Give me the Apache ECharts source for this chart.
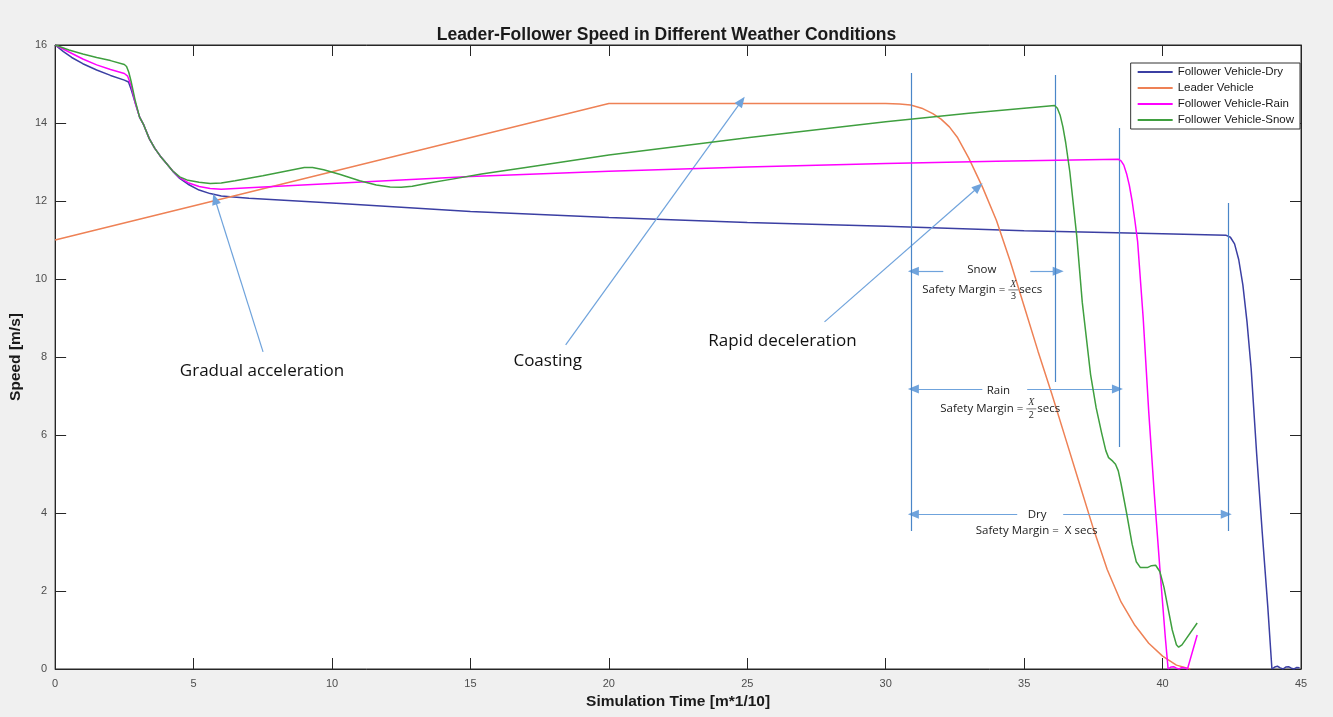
<!DOCTYPE html>
<html>
<head>
<meta charset="utf-8">
<script src="https://cdn.jsdelivr.net/npm/echarts@6/dist/echarts.min.js"></script>
<style>html,body{margin:0;padding:0;background:#fff;}#c{width:1333px;height:717px;}</style>
</head>
<body>
<div id="c"></div>
<script>
// ---- data (time [m*1/10], speed [m/s]) ----
const xTicks = [0, 5, 10, 15, 20, 25, 30, 35, 40, 45];
const yTicks = [0, 2, 4, 6, 8, 10, 12, 14, 16];

const dryData = [[0,16],[0.3,15.83],[0.6,15.68],[1,15.52],[1.5,15.36],[2,15.22],[2.5,15.1],[2.65,15.05],[2.75,14.85],[2.9,14.5],[3.05,14.15],[3.2,13.95],[3.4,13.6],[3.6,13.35],[3.8,13.15],[4,12.98],[4.25,12.76],[4.5,12.58],[4.8,12.43],[5.2,12.28],[5.6,12.19],[6,12.13],[7,12.07],[10,11.95],[15,11.73],[20,11.58],[25,11.45],[30,11.35],[35,11.24],[40,11.16],[42.3,11.12],[42.45,11.07],[42.6,10.9],[42.75,10.5],[42.9,9.85],[43.05,8.9],[43.2,7.7],[43.4,5.5],[43.6,3.5],[43.8,1.6],[43.95,0],[44.05,0.05],[44.15,0.07],[44.25,0.03],[44.35,0],[44.45,0.05],[44.55,0.06],[44.65,0.02],[44.75,0],[44.85,0.04],[44.95,0.03]];

const leaderData = [[0,11],[20,14.5],[30,14.5],[30.5,14.49],[30.9,14.46],[31.3,14.38],[31.7,14.24],[32,14.1],[32.3,13.9],[32.6,13.62],[33,13.1],[33.5,12.35],[34,11.5],[34.5,10.45],[35,9.3],[35.5,8.15],[36,7.05],[36.5,5.9],[37,4.75],[37.5,3.6],[38,2.55],[38.5,1.72],[39,1.12],[39.5,0.66],[40,0.33],[40.5,0.1],[41,0]];

const rainData = [[0,16],[0.5,15.82],[1,15.64],[1.5,15.49],[2,15.37],[2.5,15.27],[2.62,15.2],[2.75,14.95],[2.9,14.5],[3.05,14.15],[3.2,13.95],[3.4,13.6],[3.6,13.35],[3.8,13.15],[4,12.98],[4.25,12.77],[4.5,12.6],[4.8,12.47],[5.2,12.37],[5.6,12.32],[6,12.3],[7,12.34],[10,12.45],[15,12.63],[20,12.76],[25,12.87],[30,12.96],[34,13.02],[38.4,13.07],[38.5,13.03],[38.6,12.92],[38.7,12.7],[38.8,12.4],[38.9,12.0],[39,11.5],[39.1,10.95],[39.3,9.0],[39.5,6.6],[39.7,4.5],[39.9,2.6],[40.1,0.8],[40.2,0],[40.3,0.05],[40.4,0.06],[40.5,0.02],[40.6,0],[40.7,0.04],[40.8,0.03],[40.9,0],[41.25,0.87]];

const snowData = [[0,16],[0.5,15.87],[1,15.77],[1.5,15.68],[2,15.6],[2.5,15.5],[2.58,15.45],[2.66,15.3],[2.75,15.05],[2.9,14.55],[3.05,14.15],[3.2,13.95],[3.4,13.6],[3.6,13.35],[3.8,13.15],[4,12.98],[4.25,12.77],[4.5,12.62],[4.8,12.53],[5.2,12.48],[5.6,12.45],[6,12.46],[6.5,12.52],[7.5,12.65],[8.5,12.79],[9,12.86],[9.3,12.86],[9.7,12.8],[10.3,12.68],[11,12.52],[11.6,12.41],[12.1,12.36],[12.5,12.35],[12.9,12.38],[13.5,12.46],[14.5,12.58],[15.4,12.69],[17,12.86],[20,13.18],[25,13.62],[30,14.03],[33,14.25],[36.1,14.45],[36.2,14.38],[36.3,14.2],[36.4,13.9],[36.5,13.5],[36.65,12.75],[36.9,11.1],[37.1,9.4],[37.4,7.55],[37.6,6.7],[37.8,6.05],[37.95,5.6],[38.05,5.42],[38.2,5.33],[38.3,5.25],[38.4,5.08],[38.5,4.75],[38.7,4.0],[38.9,3.2],[39.05,2.75],[39.2,2.6],[39.45,2.6],[39.6,2.65],[39.75,2.66],[39.9,2.5],[40.05,2.1],[40.2,1.55],[40.35,1.0],[40.5,0.62],[40.58,0.56],[40.7,0.62],[41.25,1.18]];

const seriesNames = ['Follower Vehicle-Dry', 'Leader Vehicle', 'Follower Vehicle-Rain', 'Follower Vehicle-Snow'];
const seriesColors = ['#3b3fa3', '#ee8155', '#ff00ff', '#3f9f3f'];

// annotation arrows [from, to] in data coords
const annotArrows = [
  [[7.51, 8.13], [5.77, 12.05]],
  [[18.44, 8.31], [24.79, 14.56]],
  [[27.79, 8.9], [33.35, 12.36]],
  [[32.08, 10.2], [31.0, 10.2]],
  [[35.22, 10.2], [36.23, 10.2]],
  [[33.49, 7.18], [31.0, 7.18]],
  [[35.11, 7.18], [38.37, 7.18]],
  [[34.75, 3.97], [31.0, 3.97]],
  [[36.41, 3.97], [42.3, 3.97]]
];
const annotVLines = [
  [30.93, 3.54, 15.28],
  [36.12, 7.36, 15.23],
  [38.43, 5.69, 13.87],
  [42.37, 3.54, 11.95]
];
const annotTexts = [
  ['Gradual acceleration', 7.47, 7.64],
  ['Coasting', 17.79, 7.9],
  ['Rapid deceleration', 26.27, 8.41]
];

const chart = echarts.init(document.getElementById('c'));
const FONT = '"Liberation Sans", Arial, sans-serif';
const ANN = '"Open Sans", "Liberation Sans", sans-serif';

const lineSeries = [dryData, leaderData, rainData, snowData].map((d, i) => ({
  name: seriesNames[i],
  type: 'line',
  data: d,
  symbol: 'none',
  smooth: false,
  lineStyle: { width: 1.5, color: seriesColors[i] },
  itemStyle: { color: seriesColors[i] },
  z: 3 + i
}));

const markLineData = [];
annotArrows.forEach(a => {
  markLineData.push([{ coord: a[0], symbol: 'none' }, { coord: a[1], symbol: 'triangle' }]);
});
annotVLines.forEach(v => {
  markLineData.push([{ coord: [v[0], v[1]], symbol: 'none', lineStyle: { color: '#4a86c8', width: 1.2 } }, { coord: [v[0], v[2]], symbol: 'none' }]);
});

const annotSeries = {
  name: 'annot',
  type: 'line',
  xAxisIndex: 1, yAxisIndex: 1,
  data: [],
  silent: true,
  markLine: {
    silent: true,
    animation: false,
    symbolSize: [9, 11],
    label: { show: false },
    lineStyle: { color: '#6fa3dc', width: 1.2, type: 'solid' },
    data: markLineData
  }
};

const tickStyle = { show: true, inside: true, length: 11, lineStyle: { color: '#262626' } };
const lineStyleAx = { show: true, onZero: false, lineStyle: { color: '#262626' } };

chart.setOption({
  animation: false,
  backgroundColor: '#f0f0f0',
  title: {
    text: 'Leader-Follower Speed in Different Weather Conditions',
    left: 'center', top: 21,
    textStyle: { fontFamily: FONT, fontSize: 17.5, fontWeight: 'bold', color: '#1a1a1a' }
  },
  legend: {
    data: seriesNames,
    orient: 'vertical',
    right: 33, top: 63,
    itemWidth: 35, itemHeight: 12, itemGap: 4,
    padding: [3, 6, 3, 6],
    backgroundColor: '#fff',
    borderColor: '#333', borderWidth: 1,
    itemStyle: { opacity: 0 },
    textStyle: { fontFamily: FONT, fontSize: 11.5, lineHeight: 12, color: '#1a1a1a' }
  },
  grid: { left: 54, right: 32, top: 45, bottom: 48, show: true, backgroundColor: '#fff', borderColor: '#262626', borderWidth: 1 },
  xAxis: [{
    type: 'value', min: 0, max: 45, interval: 5,
    name: 'Simulation Time [m*1/10]', nameLocation: 'middle', nameGap: 24,
    nameTextStyle: { fontFamily: FONT, fontSize: 15.5, fontWeight: 'bold', color: '#1a1a1a' },
    axisLine: lineStyleAx, axisTick: tickStyle,
    axisLabel: { fontFamily: FONT, fontSize: 11, color: '#4d4d4d', margin: 9, formatter: v => xTicks.includes(v) ? String(v) : '' },
    splitLine: { show: false }
  }, {
    type: 'value', min: 0, max: 45, interval: 5, position: 'top',
    axisLine: lineStyleAx, axisTick: tickStyle,
    axisLabel: { show: false }, splitLine: { show: false }
  }],
  yAxis: [{
    type: 'value', min: 0, max: 16, interval: 2,
    name: 'Speed [m/s]', nameLocation: 'middle', nameGap: 21,
    nameTextStyle: { fontFamily: FONT, fontSize: 15.5, fontWeight: 'bold', color: '#1a1a1a' },
    axisLine: lineStyleAx, axisTick: tickStyle,
    axisLabel: { fontFamily: FONT, fontSize: 11, color: '#4d4d4d', margin: 8, formatter: v => yTicks.includes(v) ? String(v) : '' },
    splitLine: { show: false }
  }, {
    type: 'value', min: 0, max: 16, interval: 2, position: 'right',
    axisLine: lineStyleAx, axisTick: tickStyle,
    axisLabel: { show: false }, splitLine: { show: false }
  }],
  series: lineSeries.concat([annotSeries])
});

// ---- text annotations placed from data coordinates ----
const px = (t, v) => chart.convertToPixel({ xAxisIndex: 0, yAxisIndex: 0 }, [t, v]);
const graphics = [];
annotTexts.forEach(a => {
  const p = px(a[1], a[2]);
  graphics.push({ type: 'text', x: p[0], y: p[1], z: 10,
    style: { text: a[0], fontFamily: ANN, fontSize: 17, fill: '#111', align: 'center', verticalAlign: 'middle' } });
});
const small = (txt, t, v, align) => {
  const p = px(t, v);
  graphics.push({ type: 'text', x: p[0], y: p[1], z: 10,
    style: { text: txt, fontFamily: ANN, fontSize: 11.5, fill: '#222', align: align || 'center', verticalAlign: 'middle' } });
};
const fraction = (den, t, v) => {
  const p = px(t, v);
  graphics.push({ type: 'text', x: p[0], y: p[1] - 1, z: 10,
    style: { text: 'X', fontFamily: '"Liberation Serif", serif', fontStyle: 'italic', fontSize: 10, fill: '#333', align: 'center', verticalAlign: 'bottom' } });
  graphics.push({ type: 'line', z: 10, shape: { x1: p[0] - 5, y1: p[1], x2: p[0] + 5, y2: p[1] }, style: { stroke: '#555', lineWidth: 0.8 } });
  graphics.push({ type: 'text', x: p[0], y: p[1] + 1, z: 10,
    style: { text: den, fontFamily: ANN, fontSize: 9.5, fill: '#333', align: 'center', verticalAlign: 'top' } });
  graphics.push({ type: 'text', x: p[0] - 8, y: p[1], z: 10,
    style: { text: 'Safety Margin =', fontFamily: ANN, fontSize: 11.5, fill: '#222', align: 'right', verticalAlign: 'middle' } });
  graphics.push({ type: 'text', x: p[0] + 6, y: p[1], z: 10,
    style: { text: 'secs', fontFamily: ANN, fontSize: 11.5, fill: '#222', align: 'left', verticalAlign: 'middle' } });
};
small('Snow', 33.47, 10.23);
fraction('3', 34.61, 9.72);
small('Rain', 34.07, 7.13);
fraction('2', 35.26, 6.67);
small('Dry', 35.47, 3.95);
small('Safety Margin =  X secs', 35.45, 3.54);
chart.setOption({ graphic: graphics });
</script>
</body>
</html>
